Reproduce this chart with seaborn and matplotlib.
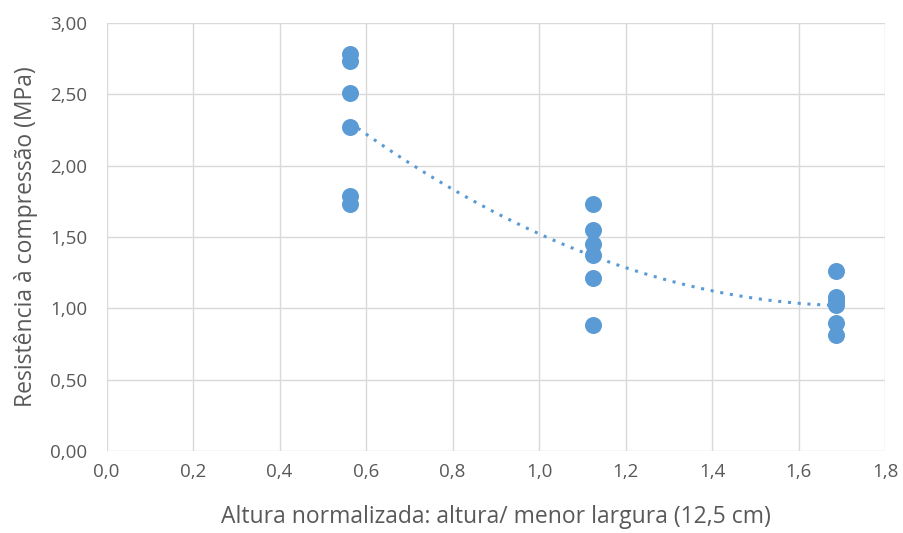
import numpy as np
import pandas as pd
import matplotlib
matplotlib.use("Agg")
import matplotlib.pyplot as plt
from matplotlib.ticker import FuncFormatter, MultipleLocator
import seaborn as sns

x_col1 = [0.5625] * 6
y_col1 = [2.78, 2.73, 2.51, 2.27, 1.79, 1.73]
x_col2 = [1.125] * 6
y_col2 = [1.73, 1.55, 1.45, 1.37, 1.21, 0.88]
x_col3 = [1.6875] * 6
y_col3 = [1.26, 1.08, 1.05, 1.02, 0.90, 0.81]

xs = x_col1 + x_col2 + x_col3
ys = y_col1 + y_col2 + y_col3
df = pd.DataFrame({"x": xs, "y": ys})

coef = np.polyfit(df["x"], df["y"], 2)
xt = np.linspace(min(xs), max(xs), 200)
trend = pd.DataFrame({"x": xt, "y": np.polyval(coef, xt)})

sns.set_theme(style="white")
plt.rcParams['font.family'] = ['Open Sans', 'DejaVu Sans']

color = "#5B9BD5"
txt = "#595959"

fig = plt.figure(figsize=(9.04, 5.33), dpi=100)
ax = fig.add_axes([0.118, 0.154, 0.861, 0.803])

sns.lineplot(data=trend, x="x", y="y", ax=ax, color=color, linestyle=(0, (1, 2.2)),
             linewidth=2.2, zorder=2)
sns.scatterplot(data=df, x="x", y="y", ax=ax, color=color, s=150, edgecolor=color,
                linewidth=0, zorder=3)

ax.set_xlim(0, 1.8)
ax.set_ylim(0, 3.0)
ax.xaxis.set_major_locator(MultipleLocator(0.2))
ax.yaxis.set_major_locator(MultipleLocator(0.5))
ax.xaxis.set_major_formatter(FuncFormatter(lambda v, p: f"{v:.1f}".replace(".", ",")))
ax.yaxis.set_major_formatter(FuncFormatter(lambda v, p: f"{v:.2f}".replace(".", ",")))
ax.grid(True, color="#D9D9D9", linewidth=1)
ax.set_axisbelow(True)
for s in ax.spines.values():
    s.set_visible(False)
ax.tick_params(axis="x", length=0, labelsize=13.5, colors=txt, pad=9)
ax.tick_params(axis="y", length=0, labelsize=13.5, colors=txt, pad=14)
ax.set_xlabel("Altura normalizada: altura/ menor largura (12,5 cm)", fontsize=16.5, color=txt, labelpad=17)
ax.set_ylabel("Resistência à compressão (MPa)", fontsize=16.5, color=txt, labelpad=9)

fig.savefig("out.png", dpi=100)
